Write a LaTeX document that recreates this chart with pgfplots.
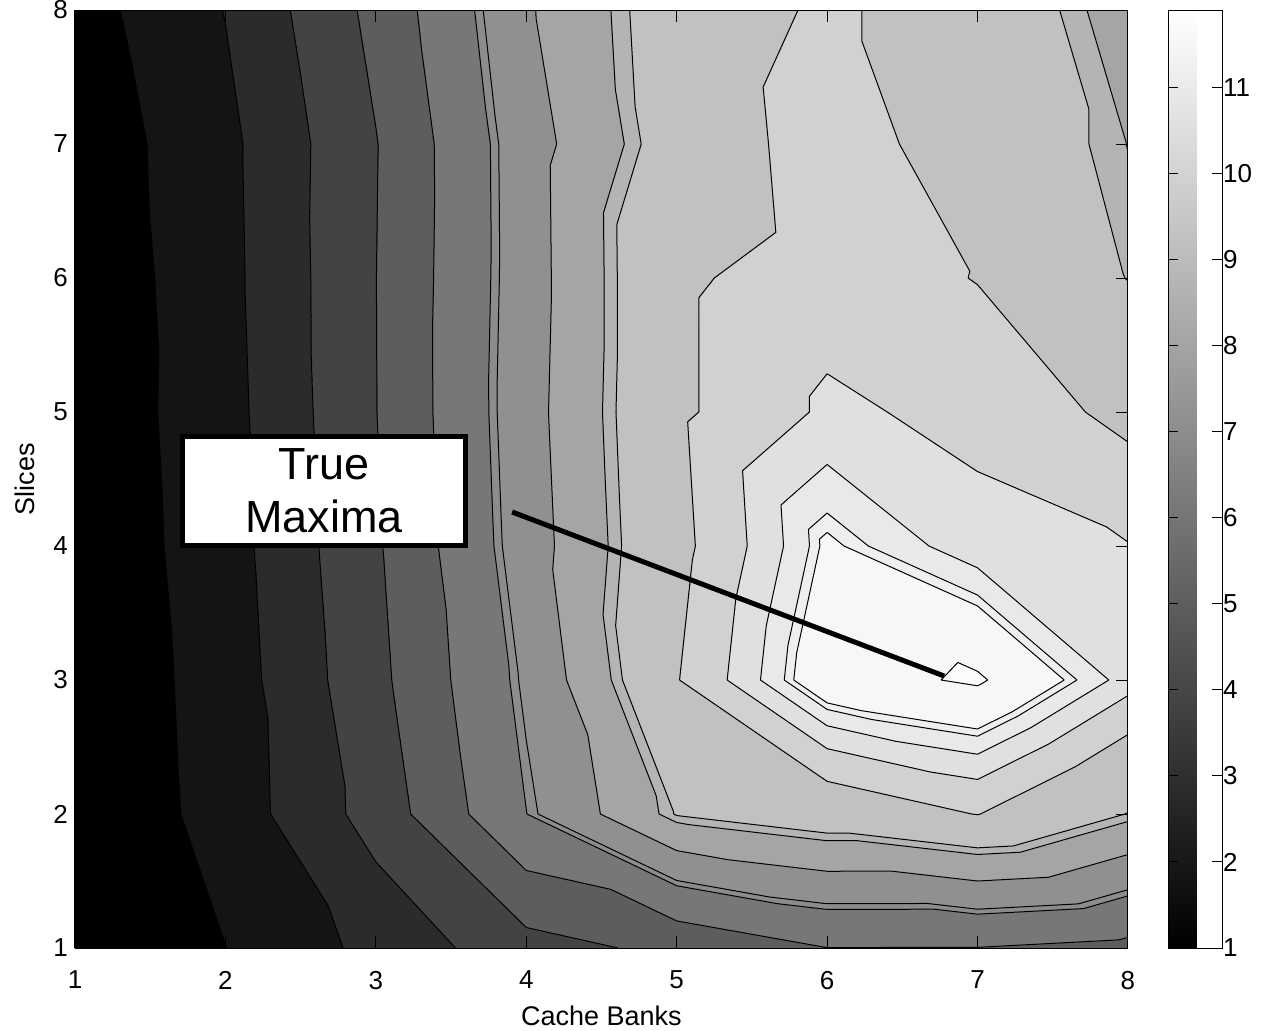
\documentclass[border=0pt]{standalone}
\usepackage{pgfplots}
\pgfplotsset{compat=1.18}
\usepackage{pgfplotstable}
\usepackage{fontspec}
\setmainfont{Liberation Sans}
\setsansfont{Liberation Sans}

% grid of values: x = cache banks, y = slices, z = value
\pgfplotstableread{
x y z
1 1 1.00
2 1 1.99
3 1 3.28
4 1 4.64
5 1 5.23
6 1 5.99
7 1 5.98
8 1 5.74
1 2 1.05
2 2 2.40
3 2 4.40
4 2 6.99
5 2 9.04
6 2 9.50
7 2 10.02
8 2 8.98
1 3 1.13
2 3 2.45
3 3 4.73
4 3 7.28
5 3 9.97
6 3 11.55
7 3 11.88
8 3 10.70
1 4 1.19
2 4 2.56
3 4 4.88
4 4 7.58
5 4 9.82
6 4 11.27
7 4 10.65
8 4 10.52
1 5 1.23
2 5 2.63
3 5 4.98
4 5 7.67
5 5 9.90
6 5 10.58
7 5 10.38
8 5 9.85
1 6 1.21
2 6 2.70
3 6 4.99
4 6 7.62
5 6 9.90
6 6 10.30
7 6 9.98
8 6 8.98
1 7 1.32
2 7 2.74
3 7 4.96
4 7 7.64
5 7 9.42
6 7 10.37
7 7 9.60
8 7 8.79
1 8 1.56
2 8 3.03
3 8 5.28
4 8 7.90
5 8 9.50
6 8 10.12
7 8 9.60
8 8 8.50
}\zdata

\pgfplotsset{
  colormap={contourgray}{
    rgb255(1cm)=(0,0,0)
    rgb255(2cm)=(20,20,20)
    rgb255(3cm)=(43,43,43)
    rgb255(4cm)=(67,67,67)
    rgb255(5cm)=(93,93,93)
    rgb255(6cm)=(119,119,119)
    rgb255(7cm)=(140,140,140)
    rgb255(7.15cm)=(144,144,144)
    rgb255(8cm)=(165,165,165)
    rgb255(8.8cm)=(180,180,180)
    rgb255(9cm)=(193,193,193)
    rgb255(10cm)=(209,209,209)
    rgb255(10.5cm)=(224,224,224)
    rgb255(10.85cm)=(233,233,233)
    rgb255(11.1cm)=(239,239,239)
    rgb255(11.2cm)=(247,247,247)
    rgb255(11.8cm)=(251,251,251)
    rgb255(11.9cm)=(251,251,251)
  },
}

% ---- store grid values in macros ----
\foreach \r in {0,...,63}{%
  \pgfplotstablegetelem{\r}{x}\of\zdata \let\tx\pgfplotsretval
  \pgfplotstablegetelem{\r}{y}\of\zdata \let\ty\pgfplotsretval
  \pgfplotstablegetelem{\r}{z}\of\zdata
  \expandafter\xdef\csname zv\tx:\ty\endcsname{\pgfplotsretval}%
}

% ---- marching triangles (same split as the shaded fill) ----
\newcount\mcnpts
\def\mcedge#1#2#3#4#5#6{%
  \ifdim #3pt<\mclev pt \def\mcsa{0}\else\def\mcsa{1}\fi
  \ifdim #6pt<\mclev pt \def\mcsb{0}\else\def\mcsb{1}\fi
  \ifx\mcsa\mcsb\else
    \pgfmathsetmacro\mct{(\mclev-(#3))/((#6)-(#3))}%
    \pgfmathsetmacro\mcx{#1+\mct*((#4)-(#1))}%
    \pgfmathsetmacro\mcy{#2+\mct*((#5)-(#2))}%
    \global\advance\mcnpts by 1
    \expandafter\xdef\csname mcp\the\mcnpts\endcsname{(\mcx,\mcy,12)}%
  \fi}
\def\mcflush{%
  \ifnum\mcnpts=2
    \xdef\mcsegs{\mcsegs \csname mcp1\endcsname \csname mcp2\endcsname (nan,nan,nan) }%
  \fi}
\gdef\mcsegs{}
\foreach \mclev in {2,3,4,5,6,7,7.15,8,8.8,9,10,10.5,10.85,11.1,11.2,11.8}{%
  \foreach \i in {1,...,7}{%
    \foreach \j in {1,...,7}{%
      \pgfmathtruncatemacro\ii{\i+1}%
      \pgfmathtruncatemacro\jj{\j+1}%
      \edef\za{\csname zv\i:\j\endcsname}%
      \edef\zb{\csname zv\ii:\j\endcsname}%
      \edef\zc{\csname zv\ii:\jj\endcsname}%
      \edef\zd{\csname zv\i:\jj\endcsname}%
      % triangle A B D
      \global\mcnpts=0
      \mcedge{\i}{\j}{\za}{\ii}{\j}{\zb}%
      \mcedge{\ii}{\j}{\zb}{\i}{\jj}{\zd}%
      \mcedge{\i}{\jj}{\zd}{\i}{\j}{\za}%
      \mcflush
      % triangle B C D
      \global\mcnpts=0
      \mcedge{\ii}{\j}{\zb}{\ii}{\jj}{\zc}%
      \mcedge{\ii}{\jj}{\zc}{\i}{\jj}{\zd}%
      \mcedge{\i}{\jj}{\zd}{\ii}{\j}{\zb}%
      \mcflush
    }%
  }%
}
\def\plotcontours#1{\addplot3[black, line width=0.5pt, forget plot, unbounded coords=jump] coordinates {#1};}

\begin{document}
\begin{tikzpicture}
\useasboundingbox (-37.5pt,-41pt) rectangle (593pt,474pt);
\begin{axis}[
  at={(0,0)}, anchor=south west,
  scale only axis, width=526.5pt, height=469pt,
  view={0}{90},
  xmin=1, xmax=8, ymin=1, ymax=8,
  xtick={1,...,8}, ytick={1,...,8},
  xtick pos=both, ytick pos=both,
  tick align=inside,
  major tick length=6pt,
  axis line style={line width=0.5pt},
  every tick/.style={black, line width=0.5pt},
  point meta min=1, point meta max=11.9,
  colormap/blackwhite,
  /pgf/number format/assume math mode=true,
  tick label style={font=\fontsize{13}{15}\selectfont},
  xticklabel style={yshift=-8pt},
  xlabel={Cache Banks}, ylabel={Slices},
  label style={font=\fontsize{13.5}{16}\selectfont},
  xlabel style={at={(axis description cs:0.5,-0.0725)}, anchor=center},
  ylabel style={at={(axis description cs:-0.0475,0.5)}, anchor=center},
  colorbar,
  colorbar style={
    at={(parent axis.north east)}, anchor=north west, xshift=11.5pt,
    width=27pt,
    ytick={1,2,...,11},
    ytick pos=both,
    tick align=inside,
    major tick length=5pt,
    every tick/.style={black, line width=0.5pt},
    yticklabel pos=right,
    /pgf/number format/assume math mode=true,
    tick label style={font=\fontsize{13}{15}\selectfont},
    yticklabel style={xshift=-3pt},
  },
]
\addplot3[surf, shader=interp, colormap name=contourgray,
  colormap access=piecewise constant, mesh/rows=8, mesh/cols=8]
  table[x=x, y=y, z=z] {\zdata};
\expandafter\plotcontours\expandafter{\mcsegs}
\draw[line width=2.5pt] (axis cs:3.906,4.254,12) -- (axis cs:6.778,3.03,12);
\node[draw, line width=2.8pt, fill=white, minimum width=141.5pt, minimum height=54.5pt,
  align=center, inner sep=0pt, font=\fontsize{22.5}{26.5}\selectfont]
  at (axis cs:2.656,4.41,12) {True\\Maxima};
\end{axis}
\end{tikzpicture}
\end{document}
